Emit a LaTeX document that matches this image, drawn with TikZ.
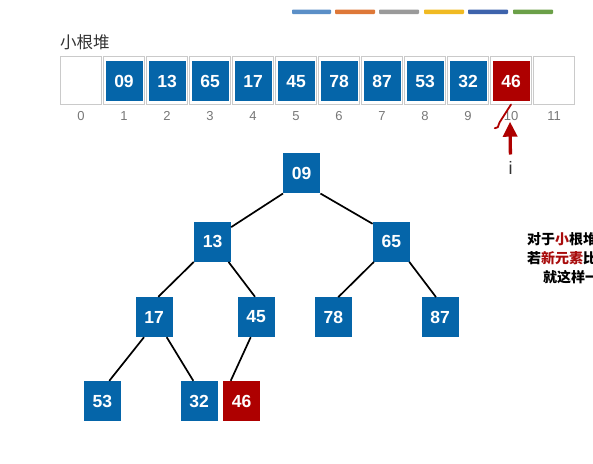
\documentclass[tikz,border=0pt]{standalone}
\usepackage{fontspec}
\setmainfont{Liberation Sans}
\newfontfamily\cjk{Noto Sans CJK SC}
\usetikzlibrary{arrows.meta}
\definecolor{hblue}{HTML}{0565A9}
\definecolor{hred}{HTML}{AE0000}
\definecolor{cellgray}{HTML}{CACACA}
\definecolor{idxgray}{HTML}{777777}
\definecolor{titlegray}{HTML}{333333}
\definecolor{txtred}{HTML}{A80C0C}
\definecolor{barA}{HTML}{5B8FC7}
\definecolor{barB}{HTML}{DE7838}
\definecolor{barC}{HTML}{9A9A9A}
\definecolor{barD}{HTML}{F0BA22}
\definecolor{barE}{HTML}{3E63AC}
\definecolor{barF}{HTML}{6BA048}
\begin{document}
\begin{tikzpicture}[x=1pt,y=-1pt,
  sq/.style={minimum width=37pt,minimum height=40pt,inner sep=0pt,fill=hblue,text=white,font=\fontsize{17.5}{17.5}\selectfont\bfseries},
  sqr/.style={sq,fill=hred},
  cellbox/.style={draw=cellgray,line width=0.8pt,minimum width=41.6pt,minimum height=48pt,inner sep=0pt},
  idx/.style={text=idxgray,font=\fontsize{13}{13}\selectfont},
  edge/.style={line width=1.7pt,black},
  bar/.style={rounded corners=0.8pt},
  note/.style={anchor=west,inner sep=0pt,font=\cjk\bfseries\fontsize{14}{14}\selectfont}]
\useasboundingbox (0,0) rectangle (593,463);
\clip (0,0) rectangle (593,463);
% colour bars
\fill[bar,barA] (292,9.5) rectangle (331,14);
\fill[bar,barB] (335,9.5) rectangle (375,14);
\fill[bar,barC] (379,9.5) rectangle (419,14);
\fill[bar,barD] (424,9.5) rectangle (464,14);
\fill[bar,barE] (468,9.5) rectangle (508,14);
\fill[bar,barF] (513,9.5) rectangle (553,14);
% title
\node[anchor=west,inner sep=0pt,text=titlegray,font=\cjk\fontsize{16.5}{16.5}\selectfont] (title) at (60,42) {小根堆};
% array cells and indices
\foreach \k in {0,...,11}{
  \node[cellbox] (c\k) at (81+43*\k,80.2) {};
  \node[idx] (i\k) at (81+43*\k,116) {\k};
}
% array values
\foreach \v [count=\k] in {09,13,65,17,45,78,87,53,32}{
  \node[sq] (a\k) at (124+43*\k-43,81.4) {\v};
}
\node[sqr] (a10) at (511,81.4) {46};
% hand mark
\draw[hred,line width=1.8pt,line cap=round,line join=round] (511,104.5) .. controls (505,113) .. (499.5,122.5) -- (497.8,127.2) -- (494.8,128.2);
% pointer i
\node[anchor=north,inner sep=0pt,text=titlegray,font=\fontsize{18}{18}\selectfont] (ilab) at (510.5,161.5) {i};
\coordinate (tip) at (510,121.7);
\draw[hred,line width=3.3pt,shorten <=7pt,-{Triangle[width=14pt,length=15pt]}] (ilab.north) -- (tip);
% tree
\node[sq] (n1) at (301.7,173.3) {09};
\node[sq] (n2) at (212.5,241.7) {13};
\node[sq] (n3) at (391.3,241.7) {65};
\node[sq] (n4) at (154,317) {17};
\node[sq] (n5) at (256,317) {45};
\node[sq] (n6) at (333.3,317.3) {78};
\node[sq] (n7) at (440,317.3) {87};
\node[sq] (n8) at (102.3,401) {53};
\node[sq] (n9) at (199,401) {32};
\node[sqr] (n10) at (241.7,401) {46};
\draw[edge] (n1.south west) -- ([yshift=-5.6pt]n2.north east);
\draw[edge] (n1.south east) -- ([yshift=-2.3pt]n3.north west);
\draw[edge] (n2.south west) -- ([xshift=4.3pt]n4.north);
\draw[edge] ([xshift=-2.7pt]n2.south east) -- ([xshift=-1pt]n5.north);
\draw[edge] ([xshift=1.3pt]n3.south west) -- ([xshift=5pt]n6.north);
\draw[edge] ([xshift=-0.7pt]n3.south east) -- ([xshift=-4pt]n7.north);
\draw[edge] ([xshift=-10pt]n4.south) -- ([xshift=7pt]n8.north);
\draw[edge] ([xshift=12.7pt]n4.south) -- ([xshift=-5.7pt]n9.north);
\draw[edge] ([xshift=-5.3pt]n5.south) -- ([xshift=-11pt]n10.north);
% side note (cut off at the right edge, as in the reference)
\node[note] (t1) at (527,239.5) {对于\textcolor{txtred}{小}根堆};
\node[note] (t2) at (527,258) {若\textcolor{txtred}{新元素}比};
\node[note] (t3) at (543,277) {就这样一};
\end{tikzpicture}
\end{document}
